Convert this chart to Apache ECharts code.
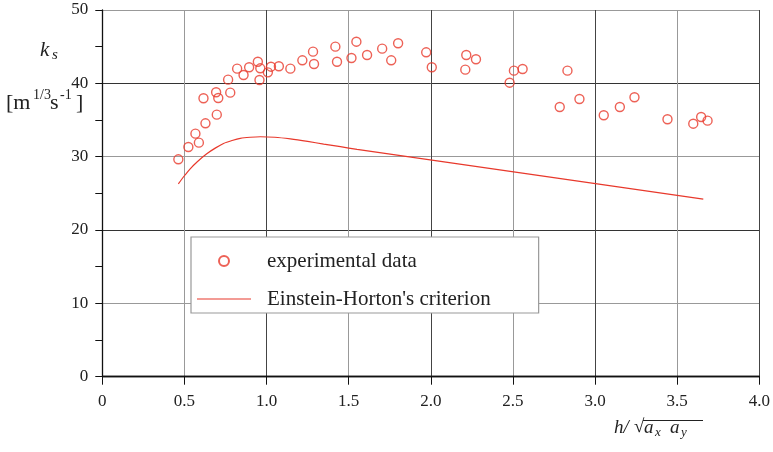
<!DOCTYPE html>
<html><head><meta charset="utf-8">
<script src="https://cdn.jsdelivr.net/npm/echarts@6/dist/echarts.min.js"></script>
<style>html,body{margin:0;padding:0;background:#fff}#c{width:773px;height:452px}</style>
</head><body><div id="c"></div>
<script>
// experimental data (h/sqrt(ax ay), ks)
const expX = [0.463,0.524,0.567,0.588,0.628,0.616,0.697,0.693,0.706,0.779,0.766,0.821,0.860,0.894,0.947,0.962,0.957,1.008,1.027,1.075,1.145,1.218,1.283,1.289,1.419,1.429,1.517,1.547,1.612,1.704,1.759,1.801,1.972,2.006,2.216,2.210,2.275,2.480,2.506,2.559,2.832,2.785,2.905,3.053,3.151,3.240,3.441,3.598,3.646,3.685];
const expY = [29.64,31.32,33.14,31.91,34.55,37.96,35.73,38.78,38.0,38.73,40.5,42.0,41.14,42.19,42.95,42.05,40.46,41.5,42.27,42.33,42.0,43.14,44.32,42.64,45.0,42.95,43.45,45.68,43.87,44.73,43.14,45.46,44.23,42.19,43.87,41.87,43.28,40.09,41.73,41.96,41.73,36.78,37.87,35.65,36.78,38.1,35.1,34.5,35.41,34.91];
// Einstein-Horton's criterion curve
const ehX = [0.463,0.50,0.535,0.58,0.636,0.69,0.738,0.79,0.840,0.90,0.962,1.05,1.145,1.25,1.348,1.45,1.551,3.659];
const ehY = [26.3,27.4,28.35,29.35,30.4,31.2,31.8,32.2,32.5,32.65,32.72,32.65,32.42,32.08,31.72,31.36,31.0,24.2];
const xTicks = {min:0, max:4, interval:0.5};
const yTicks = {min:0, max:50, interval:10};
const seriesNames = ['experimental data', "Einstein-Horton's criterion"];

const RED = '#e8392c';
const SERIF = "'Liberation Serif','Times New Roman',serif";
const chart = echarts.init(document.getElementById('c'), null, {renderer:'canvas'});
chart.setOption({
  animation:false,
  backgroundColor:'#fff',
  grid:{left:102.3, right:13.7, top:10, bottom:75.3},
  xAxis:[{
    type:'value', min:xTicks.min, max:xTicks.max, interval:xTicks.interval,
    axisLine:{show:true, onZero:false, lineStyle:{color:'#111', width:1.3}},
    axisTick:{show:true, length:8, lineStyle:{color:'#111', width:1}},
    axisLabel:{margin:16, color:'#222', fontFamily:SERIF, fontSize:17,
      formatter:v => v===0 ? '0' : v.toFixed(1)},
    splitLine:{show:true, lineStyle:{color:['#444','#999'], width:1}}
  },{
    type:'value', position:'top', min:xTicks.min, max:xTicks.max,
    axisLine:{show:true, lineStyle:{color:'#111', width:1.3}},
    axisTick:{show:false}, axisLabel:{show:false}, splitLine:{show:false}
  }],
  yAxis:{
    type:'value', min:yTicks.min, max:yTicks.max, interval:yTicks.interval,
    axisLine:{show:true, lineStyle:{color:'#111', width:1.3}},
    axisTick:{show:true, length:7, lineStyle:{color:'#111'}},
    minorTick:{show:true, splitNumber:2, length:7, lineStyle:{color:'#111'}},
    axisLabel:{margin:14, color:'#222', fontFamily:SERIF, fontSize:17},
    splitLine:{show:true, lineStyle:{color:['#333','#999'], width:1}}
  },
  legend:{
    orient:'vertical', left:191, top:237,
    padding:[12,48,2,6], itemGap:14, itemWidth:54, itemHeight:10,
    backgroundColor:'#fff', borderColor:'#999', borderWidth:1.2,
    textStyle:{fontFamily:SERIF, fontSize:21, color:'#222', lineHeight:24, padding:[0,0,0,11]},
    data:[{name:seriesNames[0]}, {name:seriesNames[1], icon:'path://M0,0 L54,0 L54,1.2 L0,1.2 Z', itemStyle:{color:RED, borderWidth:0}}],
    z:10
  },
  series:[{
    name:seriesNames[0], type:'scatter', symbol:'circle', symbolSize:9,
    itemStyle:{color:'transparent', borderColor:RED, borderWidth:1.4},
    data:expX.map((x,i)=>[x, expY[i]]), z:3
  },{
    name:seriesNames[1], type:'line', smooth:0.2, showSymbol:false, symbol:'none',
    lineStyle:{color:RED, width:1.2}, itemStyle:{color:RED},
    data:ehX.map((x,i)=>[x, ehY[i]]), z:2
  }],
  graphic:[
    {type:'text', left:40, top:40, style:{text:'k', font:'italic 21px '+SERIF, fill:'#222'}},
    {type:'text', left:52, top:48, style:{text:'s', font:'italic 15px '+SERIF, fill:'#222'}},
    {type:'group', left:6, top:88, children:[
      {type:'text', x:0, y:6, style:{text:'[m', font:'22px '+SERIF, fill:'#222'}},
      {type:'text', x:27, y:2, style:{text:'1/3', font:'14px '+SERIF, fill:'#222'}},
      {type:'text', x:44, y:6, style:{text:'s', font:'22px '+SERIF, fill:'#222'}},
      {type:'text', x:54, y:2, style:{text:'-1', font:'14px '+SERIF, fill:'#222'}},
      {type:'text', x:70, y:6, style:{text:']', font:'22px '+SERIF, fill:'#222'}}
    ]},
    {type:'group', left:614, top:418, children:[
      {type:'text', x:0, y:2, style:{text:'h/', font:'italic 19px '+SERIF, fill:'#222'}},
      {type:'text', x:20, y:2, style:{text:'√', font:'19px '+SERIF, fill:'#222'}},
      {type:'line', shape:{x1:29, y1:4.5, x2:89, y2:4.5}, style:{stroke:'#222', lineWidth:1}},
      {type:'text', x:30, y:2, style:{text:'a', font:'italic 19px '+SERIF, fill:'#222'}},
      {type:'text', x:41, y:10, style:{text:'x', font:'italic 13px '+SERIF, fill:'#222'}},
      {type:'text', x:56, y:2, style:{text:'a', font:'italic 19px '+SERIF, fill:'#222'}},
      {type:'text', x:67, y:10, style:{text:'y', font:'italic 13px '+SERIF, fill:'#222'}}
    ]}
  ]
});
</script></body></html>
